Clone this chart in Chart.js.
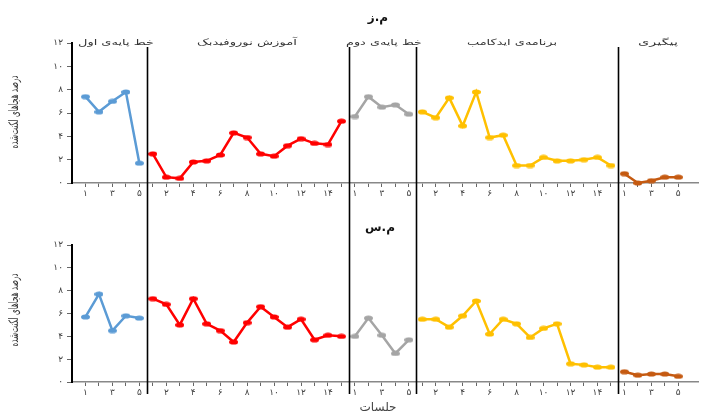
<!DOCTYPE html>
<html lang="fa">
<head>
<meta charset="UTF-8">
<title>درصد هجاهای لکنت‌شده</title>
<script src="https://cdn.jsdelivr.net/npm/chart.js"></script>
<style>
    body { margin: 0; background: #fff; }
    .wrap { position: relative; width: 705px; height: 411px; overflow: hidden; }
    .panel { position: absolute; left: 0; width: 705px; }
    #p1 { top: 0; height: 200px; }
    #p2 { top: 200px; height: 211px; }
</style>
</head>
<body>
<div class="wrap">
    <div class="panel" id="p1"><canvas id="chartTop"></canvas></div>
    <div class="panel" id="p2"><canvas id="chartBottom"></canvas></div>
</div>
<script>
// phases and session counts
const phases = ['خط پایه‌ی اول', 'آموزش نوروفیدبک', 'خط پایه‌ی دوم', 'برنامه‌ی ایدکامب', 'پیگیری'];
const phaseColors = ['#5B9BD5', '#FF0000', '#A5A5A5', '#FFC000', '#C55A11'];

// subject م.ز
const mzBase1 = [7.4, 6.1, 7.0, 7.8, 1.7];
const mzNeuro = [2.5, 0.5, 0.4, 1.8, 1.9, 2.4, 4.3, 3.9, 2.5, 2.3, 3.2, 3.8, 3.4, 3.3, 5.3];
const mzBase2 = [5.7, 7.4, 6.5, 6.7, 5.9];
const mzLidcombe = [6.1, 5.6, 7.3, 4.9, 7.8, 3.9, 4.1, 1.5, 1.5, 2.2, 1.9, 1.9, 2.0, 2.2, 1.5];
const mzFollow = [0.8, 0, 0.2, 0.5, 0.5];

// subject م.س
const msBase1 = [5.7, 7.7, 4.5, 5.8, 5.6];
const msNeuro = [7.3, 6.8, 5.0, 7.3, 5.1, 4.5, 3.5, 5.2, 6.6, 5.7, 4.8, 5.5, 3.7, 4.1, 4.0];
const msBase2 = [4.0, 5.6, 4.1, 2.5, 3.7];
const msLidcombe = [5.5, 5.5, 4.8, 5.8, 7.1, 4.2, 5.5, 5.1, 3.9, 4.7, 5.1, 1.6, 1.5, 1.3, 1.3];
const msFollow = [0.9, 0.6, 0.7, 0.7, 0.5];

const yTicks = [0, 2, 4, 6, 8, 10, 12];

const FONT = "'DejaVu Sans', sans-serif";
const faDigits = n => String(n).replace(/\d/g, d => '۰۱۲۳۴۵۶۷۸۹'[d]);

// flat oval marker like the original
function ovalMarker(color) {
    const c = document.createElement('canvas');
    c.width = 9; c.height = 6;
    const g = c.getContext('2d');
    g.fillStyle = color;
    g.beginPath();
    g.ellipse(4.5, 3, 4.5, 2.6, 0, 0, Math.PI * 2);
    g.fill();
    return c;
}

// global session index -> local number inside its phase
function buildSessions(series) {
    const localNum = {};
    const dividers = [];
    let offset = 0;
    const datasets = series.map((vals, k) => {
        const pts = vals.map((v, i) => {
            localNum[offset + i + 1] = i + 1;
            return { x: offset + i + 1, y: v };
        });
        offset += vals.length;
        if (k < series.length - 1) dividers.push(offset + 0.55);
        return {
            label: phases[k],
            data: pts,
            borderColor: phaseColors[k],
            backgroundColor: phaseColors[k],
            borderWidth: 2.5,
            pointStyle: ovalMarker(phaseColors[k]),
            pointRadius: 4,
            pointHoverRadius: 4,
            tension: 0,
            clip: false
        };
    });
    return { datasets, localNum, dividers, total: offset };
}

const overlay = {
    id: 'overlay',
    afterDraw(chart, args, o) {
        const ctx = chart.ctx;
        const xs = chart.scales.x;
        ctx.save();
        // phase lines
        ctx.strokeStyle = '#000';
        ctx.lineWidth = 1.6;
        o.dividers.forEach(d => {
            const px = Math.round(xs.getPixelForValue(d)) + 0.5;
            ctx.beginPath();
            ctx.moveTo(px, o.lineTop);
            ctx.lineTo(px, o.lineBottom);
            ctx.stroke();
        });
        ctx.textAlign = 'center';
        ctx.textBaseline = 'middle';
        // phase names, stretched wide like the source
        if (o.phaseLabels) {
            ctx.fillStyle = '#333';
            ctx.font = '8.5px ' + FONT;
            o.phaseLabels.forEach(p => {
                const w = ctx.measureText(p.text).width;
                ctx.save();
                ctx.translate(p.x, p.y);
                ctx.scale(p.w / w, 1);
                ctx.fillText(p.text, 0, 0);
                ctx.restore();
            });
        }
        // subject title
        ctx.fillStyle = '#111';
        ctx.font = 'bold 12px ' + FONT;
        ctx.fillText(o.title, o.titleX, o.titleY);
        // y title (tall, condensed)
        ctx.font = '13px ' + FONT;
        ctx.fillStyle = '#333';
        ctx.translate(15, o.yTitleY);
        ctx.rotate(-Math.PI / 2);
        ctx.scale(0.56, 1);
        ctx.fillText('درصد هجاهای لکنت‌شده', 0, 0);
        ctx.restore();
        if (o.xTitle) {
            ctx.save();
            ctx.fillStyle = '#444';
            ctx.font = '12px ' + FONT;
            ctx.letterSpacing = '1px';
            ctx.textAlign = 'center';
            ctx.textBaseline = 'middle';
            ctx.fillText(o.xTitle, 378, o.xTitleY);
            ctx.restore();
        }
    }
};

function makeChart(id, series, cfg) {
    const s = buildSessions(series);
    return new Chart(document.getElementById(id), {
        type: 'line',
        data: { datasets: s.datasets },
        options: {
            responsive: true,
            maintainAspectRatio: false,
            animation: false,
            layout: { padding: { top: cfg.top, left: 0, right: 0, bottom: 0 } },
            scales: {
                x: {
                    type: 'linear',
                    min: 0,
                    max: s.total + 1.5,
                    afterBuildTicks: sc => {
                        sc.ticks = [];
                        for (let i = 1; i <= s.total; i++) sc.ticks.push({ value: i });
                    },
                    afterFit: sc => { sc.height = cfg.xHeight; },
                    grid: { drawOnChartArea: false, tickLength: 4, color: '#666', lineWidth: 1 },
                    border: { color: '#888', width: 1.5 },
                    ticks: {
                        autoSkip: false,
                        maxRotation: 0,
                        padding: 1,
                        color: '#404040',
                        font: { family: FONT, size: 9 },
                        callback: v => (v % 2 === 1 ? faDigits(s.localNum[v]) : '')
                    }
                },
                y: {
                    min: 0,
                    max: 12,
                    afterBuildTicks: sc => { sc.ticks = yTicks.map(v => ({ value: v })); },
                    afterFit: sc => { sc.width = 72; },
                    grid: { drawOnChartArea: false, tickLength: 5, color: '#666' },
                    border: { color: '#000', width: 2 },
                    ticks: {
                        padding: 4,
                        color: '#404040',
                        font: { family: FONT, size: 9 },
                        callback: v => faDigits(v)
                    }
                }
            },
            plugins: {
                legend: { display: false },
                tooltip: { enabled: false },
                overlay: Object.assign({ dividers: s.dividers }, cfg.overlay)
            }
        },
        plugins: [overlay]
    });
}

makeChart('chartTop', [mzBase1, mzNeuro, mzBase2, mzLidcombe, mzFollow], {
    top: 43,
    xHeight: 17,
    overlay: {
        lineTop: 47,
        lineBottom: 200,
        title: 'م.ز',
        titleX: 378,
        titleY: 18,
        yTitleY: 112,
        phaseLabels: [
            { text: phases[0], x: 116, y: 43, w: 76 },
            { text: phases[1], x: 247, y: 43, w: 100 },
            { text: phases[2], x: 384, y: 43, w: 76 },
            { text: phases[3], x: 512, y: 43, w: 90 },
            { text: phases[4], x: 658, y: 43, w: 40 }
        ]
    }
});

makeChart('chartBottom', [msBase1, msNeuro, msBase2, msLidcombe, msFollow], {
    top: 45,
    xHeight: 29,
    overlay: {
        lineTop: 0,
        lineBottom: 194,
        title: 'م.س',
        titleX: 380,
        titleY: 28,
        yTitleY: 110,
        xTitle: 'جلسات',
        xTitleY: 208
    }
});
</script>
</body>
</html>
